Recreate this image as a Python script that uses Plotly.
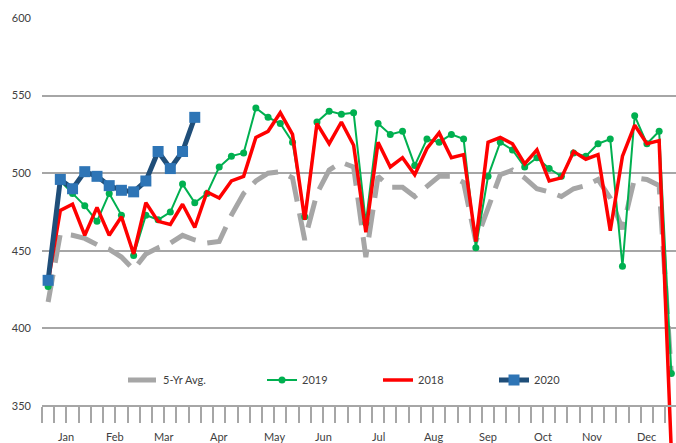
import plotly.graph_objects as go

# ---------------- data ----------------
weeks = list(range(52))

avg5 = [417, 461, 460, 458, 454, 451, 446, 438, 448, 452,
        455, 460, 457, 455, 456, 473, 487, 495, 500, 501,
        497, 457, 487, 502, 507, 504, 446, 498, 491, 491,
        485, 492, 498, 498, 494, 456, 478, 499, 502, 497,
        490, 488, 485, 490, 492, 496, 484, 464, 497, 496,
        492, 370]

y2019 = [427, 495, 487, 479, 469, 487, 473, 447, 473, 470,
         475, 493, 481, 487, 504, 511, 513, 542, 536, 532,
         520, 472, 533, 540, 538, 539, 468, 532, 525, 527,
         505, 522, 520, 525, 522, 452, 498, 520, 515, 504,
         510, 503, 498, 513, 511, 519, 522, 440, 537, 519,
         527, 371]

y2018 = [430, 476, 480, 460, 478, 460, 472, 448, 481, 469,
         467, 480, 465, 488, 484, 495, 498, 523, 527, 539,
         525, 470, 532, 519, 533, 518, 462, 520, 504, 510,
         499, 516, 526, 510, 512, 456, 520, 523, 519, 506,
         515, 495, 497, 514, 509, 512, 463, 511, 531, 519,
         521, 320]

y2020 = [431, 496, 490, 501, 498, 492, 489, 488, 495, 514,
         503, 514, 536]

months = ["Jan", "Feb", "Mar", "Apr", "May", "Jun",
          "Jul", "Aug", "Sep", "Oct", "Nov", "Dec"]
month_weeks = [4, 4, 4, 5, 4, 4, 5, 4, 5, 4, 4, 5]
y_ticks = [350, 400, 450, 500, 550, 600]

# ---------------- derived axis helpers ----------------
bounds = [-0.5]
for n in month_weeks:
    bounds.append(bounds[-1] + n)
centers = [(bounds[i] + bounds[i + 1]) / 2 for i in range(len(months))]
week_bounds = [w - 0.5 for w in range(53)]

Y_MIN, Y_MAX = 326.2, 600
axis_pos = (350 - Y_MIN) / (Y_MAX - Y_MIN)

GRAY = "#A6A6A6"
TXT = "#404040"
FONT = "Lato"

fig = go.Figure()
fig.add_trace(go.Scatter(
    x=weeks, y=avg5, name="5-Yr Avg.", mode="lines",
    line=dict(color="#A6A6A6", width=5, dash="28px,12px"),
    legend="legend"))
fig.add_trace(go.Scatter(
    x=weeks, y=y2019, name="2019", mode="lines+markers",
    line=dict(color="#00B050", width=2),
    marker=dict(symbol="circle", size=7, color="#00B050"),
    legend="legend2"))
fig.add_trace(go.Scatter(
    x=weeks, y=y2018, name="2018", mode="lines",
    line=dict(color="#FF0000", width=3.5),
    legend="legend3"))
fig.add_trace(go.Scatter(
    x=weeks[:len(y2020)], y=y2020, name="2020", mode="lines+markers",
    line=dict(color="#1F4E79", width=5),
    marker=dict(symbol="square", size=11, color="#2E75B6"),
    legend="legend4"))

W, H = 676, 443
ML, MR, MT, MB = 42, 0, 18, 0
pw = W - ML - MR
ph = H - MT - MB


def lx(px):
    return (px - ML) / pw


def ly(py):
    return (H - MB - py) / ph


leg_common = dict(orientation="h", xanchor="left", yanchor="middle",
                  bgcolor="rgba(0,0,0,0)", itemwidth=30,
                  font=dict(family=FONT, size=11, color=TXT))

annotations = [
    dict(x=c, y=ly(428), xref="x", yref="paper", text=m, showarrow=False,
         yanchor="top", xanchor="center",
         font=dict(family=FONT, size=11, color=TXT))
    for c, m in zip(centers, months)
]

fig.update_layout(
    width=W, height=H,
    margin=dict(l=ML, r=MR, t=MT, b=MB, autoexpand=False),
    paper_bgcolor="white", plot_bgcolor="white",
    font=dict(family=FONT, size=11, color=TXT),
    showlegend=True,
    legend=dict(x=lx(123), y=ly(380), **leg_common),
    legend2=dict(x=lx(262), y=ly(380), **leg_common),
    legend3=dict(x=lx(378), y=ly(380), **leg_common),
    legend4=dict(x=lx(494), y=ly(380), **leg_common),
    annotations=annotations,
    xaxis=dict(
        range=[-0.5, (W - ML) / (pw / 52.0) - 0.5 - 0.12],
        anchor="free", position=axis_pos, automargin=False,
        showline=True, linecolor=GRAY, linewidth=2,
        showgrid=False, zeroline=False,
        tickmode="array", tickvals=bounds, ticktext=[""] * len(bounds),
        showticklabels=False,
        ticks="outside", ticklen=40, tickwidth=1.5, tickcolor=GRAY,
        minor=dict(tickmode="array", tickvals=week_bounds, ticks="outside",
                   ticklen=16, tickwidth=1.5, tickcolor=GRAY, showgrid=False),
    ),
    yaxis=dict(
        range=[Y_MIN, Y_MAX], automargin=False,
        tickmode="array", tickvals=y_ticks,
        showgrid=True, gridcolor=GRAY, gridwidth=1.5,
        zeroline=False, showline=False, ticks="",
        ticklabelstandoff=10,
        tickfont=dict(family=FONT, size=11, color=TXT),
    ),
)

fig.write_html(
    "out.html",
    config={"displayModeBar": False},
    post_script="document.body.style.margin='0';"
                "document.body.style.overflow='hidden';",
)
